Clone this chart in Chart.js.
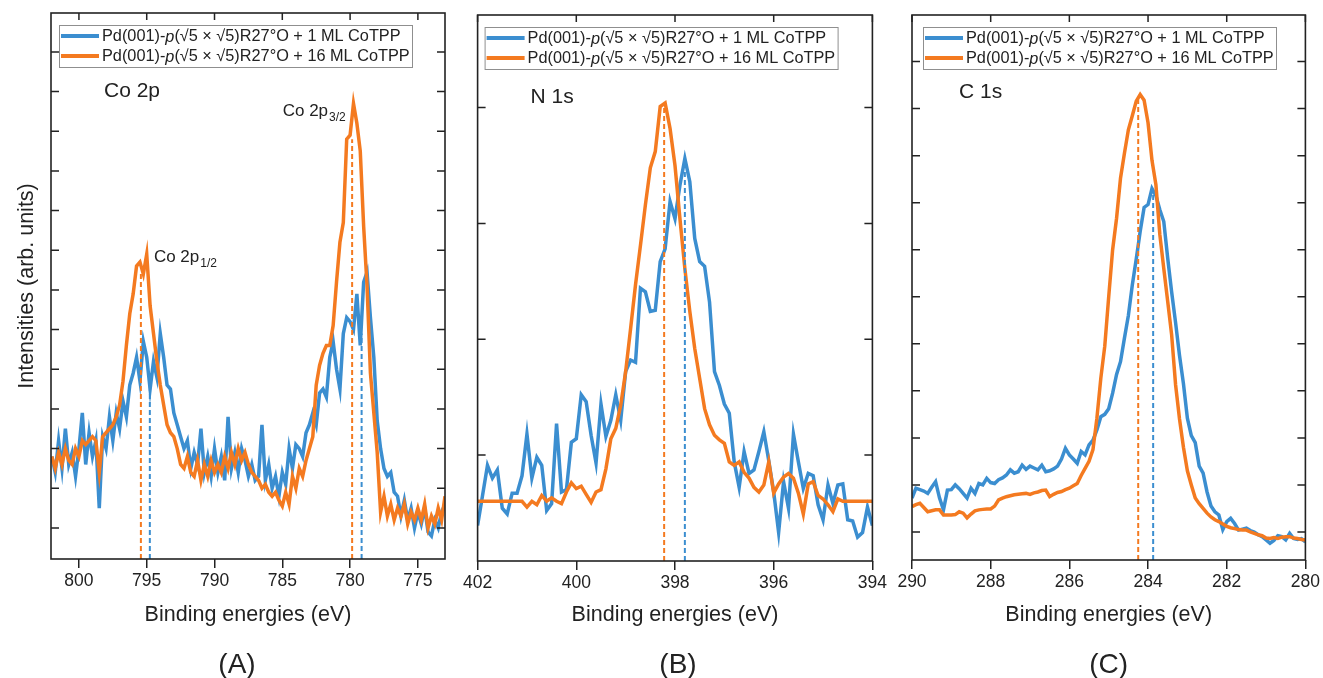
<!DOCTYPE html>
<html>
<head>
<meta charset="utf-8">
<title>XPS Co 2p / N 1s / C 1s</title>
<script src="https://cdn.jsdelivr.net/npm/chart.js@4.4.0/dist/chart.umd.min.js"></script>
<style>
  html, body { margin: 0; padding: 0; background: #fff; }
  #page { position: relative; width: 1323px; height: 678px; overflow: hidden; }
  #page canvas { position: absolute; top: 0; }
</style>
</head>
<body>
<div id="page">
  <canvas id="coChart" width="460" height="678" style="left:0px"></canvas>
  <canvas id="nChart" width="430" height="678" style="left:460px"></canvas>
  <canvas id="cChart" width="433" height="678" style="left:890px"></canvas>
</div>
<script>
const seriesLabels = [
  'Pd(001)-p(√5 × √5)R27°O + 1 ML CoTPP',
  'Pd(001)-p(√5 × √5)R27°O + 16 ML CoTPP'
];

// Co 2p, 802 -> 773 eV in 0.25 eV steps
const coBlue = [
  2.8, 2.4, 3.2, 2.5, 3.5, 2.6, 2.9, 2.3, 3.0, 3.9, 2.6, 3.4, 2.8,
  3.2, 1.5, 3.3, 3.0, 3.8, 3.2, 3.9, 3.5, 4.2, 3.8, 4.6, 4.9,
  5.3, 4.7, 5.7, 5.3, 4.5, 5.2, 4.8, 5.9, 5.3, 4.6, 4.5, 3.9,
  3.6, 3.3, 3.0, 3.2, 2.5, 2.9, 2.6, 3.5, 2.4, 2.8, 2.3, 3.0,
  2.4, 2.8, 2.2, 3.8, 2.5, 2.9, 2.4, 3.0, 2.7, 2.3, 2.6, 2.2,
  2.3, 3.6, 2.2, 2.6, 2.0, 2.3, 1.8, 2.4, 2.1, 3.0, 2.5, 3.1,
  3.0, 2.8, 3.4, 3.6, 3.9, 3.6, 4.4, 4.5, 4.3, 5.3, 5.7, 5.0,
  4.5, 5.9, 6.3, 6.2, 6.0, 6.9, 5.6, 7.2, 7.45, 6.3, 5.3, 3.7,
  3.0, 2.5, 2.3, 2.4, 1.9, 1.8, 1.3, 1.7, 1.2, 1.5, 1.0, 1.4,
  1.1, 1.5, 0.9, 0.8, 1.2, 1.0, 1.4, 1.6
];
const coOrange = [
  2.8, 2.5, 2.9, 2.6, 3.0, 2.7, 2.6, 3.0, 2.8, 3.2, 3.1, 3.2, 3.3,
  3.2, 2.4, 3.3, 3.4, 3.5, 3.6, 3.8, 4.1, 4.7, 5.6, 6.4, 6.9,
  7.6, 7.7, 7.4, 7.9, 6.6, 5.9, 5.2, 4.6, 4.1, 3.6, 3.4, 3.3,
  3.0, 2.6, 2.5, 2.8, 2.4, 2.3, 2.7, 2.2, 2.6, 2.3, 2.7, 2.4,
  2.6, 2.4, 2.8, 2.5, 2.9, 2.6, 3.0, 2.7, 2.9, 2.6, 2.4, 2.3,
  2.2, 2.0, 2.1, 1.9, 1.8, 1.9, 1.7, 1.55, 1.9, 1.6, 2.3, 2.0,
  2.5, 2.3, 2.7, 3.0, 3.3, 4.6, 5.1, 5.4, 5.6, 5.6, 6.1, 7.2,
  8.2, 8.7, 10.8, 10.9, 11.7, 11.2, 10.5, 8.6, 7.1, 4.9, 3.9, 2.9,
  1.4, 1.8, 1.3, 1.6, 1.2, 1.5, 1.3, 1.6, 1.1, 1.4, 1.2, 1.5,
  1.2, 1.6, 1.0, 1.3, 1.1, 1.5, 1.2, 1.8
];

// N 1s, 402 -> 394 eV in 0.1 eV steps
const nBlue = [
  0.39, 0.65, 0.91, 0.80, 0.87, 0.54, 0.49, 0.67, 0.67, 0.82,
  1.18, 0.80, 0.98, 0.91, 0.52, 0.58, 1.27, 0.68, 0.70, 1.11,
  1.14, 1.52, 1.46, 1.17, 0.93, 1.44, 1.16, 1.30, 1.52, 1.30,
  1.72, 1.82, 1.80, 2.44, 2.41, 2.24, 2.25, 2.67, 2.78, 3.19,
  3.04, 3.33, 3.56, 3.36, 2.87, 2.67, 2.63, 2.32, 1.72, 1.60,
  1.44, 1.36, 0.94, 0.72, 1.03, 0.84, 0.87, 1.03, 1.20, 0.95,
  0.68, 0.33, 0.77, 0.54, 1.18, 0.94, 0.71, 0.84, 0.82, 0.57,
  0.44, 0.74, 0.58, 0.74, 0.75, 0.44, 0.43, 0.29, 0.33, 0.55,
  0.39
];
const nOrange = [
  0.60, 0.60, 0.60, 0.60, 0.60, 0.60, 0.60, 0.60, 0.60, 0.60,
  0.55, 0.60, 0.57, 0.65, 0.60, 0.63, 0.60, 0.58, 0.68, 0.76,
  0.71, 0.73, 0.66, 0.59, 0.68, 0.70, 0.88, 1.14, 1.23, 1.43,
  1.72, 2.09, 2.47, 2.81, 3.16, 3.48, 3.62, 4.01, 4.04, 3.82,
  3.50, 3.04, 2.61, 2.24, 1.92, 1.66, 1.40, 1.26, 1.17, 1.13,
  1.10, 0.94, 0.91, 0.94, 0.85, 0.80, 0.72, 0.68, 0.74, 0.94,
  0.67, 0.75, 0.81, 0.84, 0.80, 0.67, 0.49, 0.75, 0.77, 0.65,
  0.62, 0.57, 0.51, 0.62, 0.60, 0.60, 0.60, 0.60, 0.60, 0.60,
  0.60
];

// C 1s, 290 -> 280 eV in 0.1 eV steps
const cBlue = [
  1.72, 1.93, 1.90, 1.87, 1.82, 1.95, 2.07, 1.72, 1.47, 1.89,
  1.90, 2.00, 1.92, 1.82, 1.72, 1.93, 1.82, 2.03, 2.00, 2.14,
  2.05, 2.03, 2.11, 2.15, 2.21, 2.32, 2.25, 2.28, 2.42, 2.33,
  2.40, 2.36, 2.32, 2.42, 2.28, 2.30, 2.34, 2.40, 2.55, 2.78,
  2.64, 2.55, 2.46, 2.71, 2.64, 2.85, 2.95, 3.17, 3.45, 3.50,
  3.62, 3.95, 4.35, 4.62, 5.12, 5.60, 6.25, 6.80, 7.39, 7.90,
  7.96, 8.30, 8.15, 7.85, 7.60, 6.82, 6.10, 5.45, 4.75, 4.15,
  3.42, 3.05, 2.90, 2.40, 2.25, 1.85, 1.55, 1.43, 1.36, 1.05,
  1.22, 1.29, 1.18, 1.04, 1.06, 1.08, 1.03, 1.00, 0.94, 0.90,
  0.83, 0.76, 0.82, 0.92, 0.90, 0.83, 0.97, 0.86, 0.84, 0.86,
  0.79
];
const cOrange = [
  1.54, 1.58, 1.61, 1.52, 1.43, 1.45, 1.47, 1.47, 1.36, 1.36,
  1.36, 1.37, 1.43, 1.40, 1.30, 1.38, 1.45, 1.47, 1.48, 1.49,
  1.49, 1.55, 1.68, 1.72, 1.75, 1.77, 1.79, 1.80, 1.81, 1.82,
  1.80, 1.83, 1.85, 1.88, 1.89, 1.75, 1.80, 1.84, 1.86, 1.90,
  1.93, 1.98, 2.03, 2.20, 2.35, 2.50, 2.75, 3.42, 4.27, 4.95,
  6.00, 7.00, 7.67, 8.52, 9.05, 9.55, 9.85, 10.16, 10.30, 10.18,
  9.70, 8.90, 8.38, 7.32, 6.60, 5.90, 5.19, 4.13, 3.40, 2.80,
  2.30, 2.00, 1.72, 1.60, 1.50, 1.40, 1.32, 1.26, 1.22, 1.17,
  1.12, 1.09, 1.07, 1.05, 1.04, 1.04, 1.00, 0.97, 0.94, 0.92,
  0.87, 0.86, 0.88, 0.86, 0.89, 0.90, 0.90, 0.87, 0.86, 0.84,
  0.83
];

// fitted peak positions (eV) and the intensity where each dashed marker stops
const coPeaksBlue = [794.77, 779.15];
const coPeakTopsBlue = [4.9, 5.9];
const coPeaksOrange = [795.43, 779.85];
const coPeakTopsOrange = [7.45, 10.8];
const nPeaksBlue = [397.8];
const nPeakTopsBlue = [3.45];
const nPeaksOrange = [398.22];
const nPeakTopsOrange = [4.0];
const cPeaksBlue = [283.87];
const cPeakTopsBlue = [8.2];
const cPeaksOrange = [284.25];
const cPeakTopsOrange = [10.2];

const BLUE = '#3b8ed0';
const ORANGE = '#f47a20';
const INK = '#222';
const FONT = '"Liberation Sans", Arial, Helvetica, sans-serif';
const X_AXIS_H = 45; // room for the tick labels (they are clipped to the axis box)

function energyGrid(start, end, step) {
  const out = [];
  const n = Math.round((start - end) / step);
  for (let i = 0; i <= n; i++) out.push(Math.round((start - i * step) * 100) / 100);
  return out;
}

function toPoints(energies, values) {
  return values.map((v, i) => ({ x: energies[i], y: v }));
}

function peakLines(positions, tops, color, yMin) {
  return positions.map((e, i) => ({
    data: [{ x: e, y: yMin }, { x: e, y: tops[i] }],
    borderColor: color,
    borderWidth: 2,
    borderDash: [5, 3],
    order: 0
  }));
}

// legend text with the italic "p"
function drawLabel(ctx, text, x, y, size) {
  const cut = text.indexOf('-p(') + 1;
  const parts = [[text.slice(0, cut), ''], ['p', 'italic '], [text.slice(cut + 1), '']];
  parts.forEach(([s, style]) => {
    ctx.font = style + size + 'px ' + FONT;
    ctx.fillText(s, x, y);
    x += ctx.measureText(s).width;
  });
}

function drawSubText(ctx, main, sub, x, y) {
  ctx.font = '17px ' + FONT;
  ctx.fillText(main, x, y);
  const w = ctx.measureText(main).width;
  ctx.font = '12px ' + FONT;
  ctx.fillText(sub, x + w + 1, y + 5);
}

function decorations(p) {
  return {
    id: 'decor' + p.letter,
    afterDraw(chart) {
      const ctx = chart.ctx;
      const a = chart.chartArea;
      const xs = chart.scales.x;
      const ys = chart.scales.y;
      ctx.save();

      // inward ticks: left / right / top, outward minor ticks at the bottom
      ctx.strokeStyle = INK;
      ctx.lineWidth = 1.5;
      ctx.beginPath();
      ys.ticks.forEach(t => {
        const y = ys.getPixelForValue(t.value);
        ctx.moveTo(a.left, y); ctx.lineTo(a.left + 8, y);
        ctx.moveTo(a.right, y); ctx.lineTo(a.right - 8, y);
      });
      const majors = xs.ticks.map(t => t.value);
      const step = p.xStep;
      majors.forEach(v => {
        const x = xs.getPixelForValue(v);
        ctx.moveTo(x, a.top); ctx.lineTo(x, a.top + 7);
      });
      for (let v = majors[0] - step / 2; v <= majors[majors.length - 1] + step / 2; v += step) {
        if (v <= xs.min || v >= xs.max) continue;
        const x = xs.getPixelForValue(v);
        ctx.moveTo(x, a.top); ctx.lineTo(x, a.top + 5);
        ctx.moveTo(x, a.bottom); ctx.lineTo(x, a.bottom + 5);
      }
      ctx.stroke();

      ctx.lineWidth = 1.6;
      ctx.strokeRect(a.left, a.top, a.right - a.left, a.bottom - a.top);

      // legend box
      const bx = a.left + p.legendX, by = a.top + 12;
      ctx.strokeStyle = '#8f8f8f';
      ctx.lineWidth = 1;
      ctx.strokeRect(bx + 0.5, by + 0.5, 353, 42);
      ctx.textBaseline = 'middle';
      ctx.textAlign = 'left';
      ctx.fillStyle = INK;
      [BLUE, ORANGE].forEach((c, i) => {
        const ry = by + 11 + i * 20;
        ctx.strokeStyle = c;
        ctx.lineWidth = 4;
        ctx.beginPath();
        ctx.moveTo(bx + 2, ry); ctx.lineTo(bx + 40, ry);
        ctx.stroke();
        drawLabel(ctx, seriesLabels[i], bx + 43, ry + 1, 16.3);
      });

      // panel name
      ctx.textBaseline = 'alphabetic';
      ctx.font = '21px ' + FONT;
      ctx.fillText(p.name, a.left + p.nameX, a.top + p.nameY);

      // peak annotations
      (p.notes || []).forEach(n => {
        drawSubText(ctx, n.main, n.sub, xs.getPixelForValue(n.x), ys.getPixelForValue(n.y));
      });

      // axis titles and panel letter
      const cx = (a.left + a.right) / 2;
      ctx.textAlign = 'center';
      ctx.textBaseline = 'middle';
      ctx.font = '21.5px ' + FONT;
      ctx.fillText('Binding energies (eV)', cx, 615);
      ctx.font = '28px ' + FONT;
      ctx.fillText('(' + p.letter + ')', cx + p.letterShift, 665);
      if (p.yTitle) {
        ctx.translate(27, (a.top + a.bottom) / 2);
        ctx.rotate(-Math.PI / 2);
        ctx.font = '21.5px ' + FONT;
        ctx.fillText(p.yTitle, 0, 0);
      }
      ctx.restore();
    }
  };
}

function makePanel(id, p) {
  const datasets = [
    { label: seriesLabels[1], data: toPoints(p.energy, p.orange), borderColor: ORANGE, borderWidth: 3.5, order: 1 },
    { label: seriesLabels[0], data: toPoints(p.energy, p.blue), borderColor: BLUE, borderWidth: 3.5, order: 2 }
  ].concat(
    peakLines(p.peaksBlue, p.topsBlue, BLUE, p.yMin),
    peakLines(p.peaksOrange, p.topsOrange, ORANGE, p.yMin)
  );

  const pad = Object.assign({}, p.pad, { bottom: p.pad.bottom - X_AXIS_H });

  return new Chart(document.getElementById(id), {
    type: 'line',
    data: { datasets },
    options: {
      responsive: false,
      animation: false,
      devicePixelRatio: 1,
      layout: { padding: pad },
      elements: { point: { radius: 0 }, line: { tension: 0, fill: false } },
      plugins: { legend: { display: false }, tooltip: { enabled: false } },
      scales: {
        x: {
          type: 'linear',
          reverse: true,
          min: p.xMin,
          max: p.xMax,
          afterFit: s => { s.height = X_AXIS_H; },
          border: { display: false },
          grid: { drawOnChartArea: false, drawTicks: true, tickLength: 9, color: INK, lineWidth: 1.5 },
          ticks: {
            stepSize: p.xStep,
            includeBounds: false,
            autoSkip: false,
            maxRotation: 0,
            padding: 3,
            color: INK,
            font: { family: FONT, size: 17.5 }
          }
        },
        y: {
          type: 'linear',
          min: p.yMin,
          max: p.yMax,
          afterFit: s => { s.width = 0; },
          border: { display: false },
          grid: { display: false },
          ticks: { display: false, stepSize: 1, includeBounds: false }
        }
      }
    },
    plugins: [decorations(p)]
  });
}

makePanel('coChart', {
  letter: 'A', letterShift: -11,
  energy: energyGrid(802, 773, 0.25), blue: coBlue, orange: coOrange,
  peaksBlue: coPeaksBlue, topsBlue: coPeakTopsBlue,
  peaksOrange: coPeaksOrange, topsOrange: coPeakTopsOrange,
  xMin: 773, xMax: 802.06, xStep: 5, yMin: 0.217, yMax: 13.98,
  pad: { left: 51, right: 15, top: 13, bottom: 119 },
  legendX: 8, name: 'Co 2p', nameX: 53, nameY: 84,
  notes: [
    { main: 'Co 2p', sub: '1/2', x: 794.47, y: 7.70 },
    { main: 'Co 2p', sub: '3/2', x: 784.97, y: 11.38 }
  ],
  yTitle: 'Intensities (arb. units)'
});

makePanel('nChart', {
  letter: 'B', letterShift: 3,
  energy: energyGrid(402, 394, 0.1), blue: nBlue, orange: nOrange,
  peaksBlue: nPeaksBlue, topsBlue: nPeakTopsBlue,
  peaksOrange: nPeaksOrange, topsOrange: nPeakTopsOrange,
  xMin: 394, xMax: 402, xStep: 2, yMin: 0.084, yMax: 4.80,
  pad: { left: 16, right: 16, top: 15, bottom: 117 },
  legendX: 7, name: 'N 1s', nameX: 53, nameY: 88
});

makePanel('cChart', {
  letter: 'C', letterShift: 0,
  energy: energyGrid(290, 280, 0.1), blue: cBlue, orange: cOrange,
  peaksBlue: cPeaksBlue, topsBlue: cPeakTopsBlue,
  peaksOrange: cPeaksOrange, topsOrange: cPeakTopsOrange,
  xMin: 280, xMax: 290, xStep: 2, yMin: 0.404, yMax: 11.99,
  pad: { left: 22, right: 16, top: 15, bottom: 118 },
  legendX: 11, name: 'C 1s', nameX: 47, nameY: 83
});
</script>
</body>
</html>
